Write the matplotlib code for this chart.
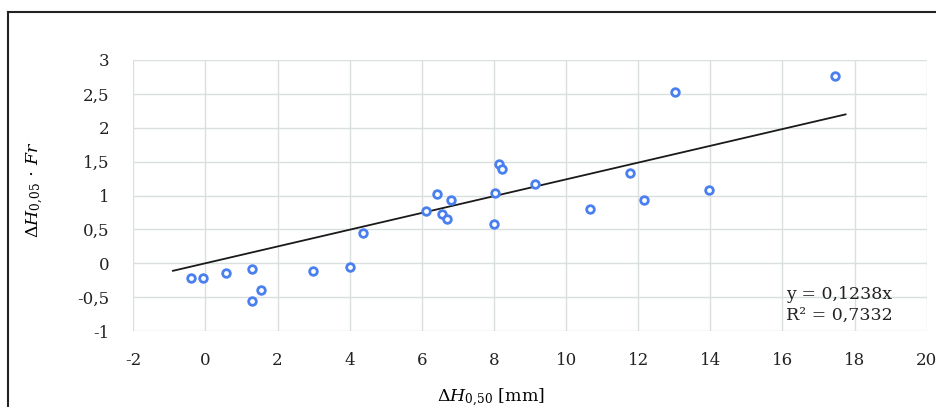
import matplotlib
matplotlib.use("Agg")
import matplotlib.pyplot as plt
from matplotlib.lines import Line2D
from matplotlib.ticker import FuncFormatter, MultipleLocator

# Data
dh50 = [-0.39, -0.08, 0.58, 1.28, 1.55, 1.28, 2.97, 4.02, 4.38, 6.13,
        6.41, 6.55, 6.71, 6.82, 7.99, 8.02, 8.13, 8.21, 9.13, 10.65,
        11.76, 12.15, 13.01, 13.95, 17.45]
dh05_fr = [-0.22, -0.22, -0.15, -0.08, -0.39, -0.55, -0.11, -0.06, 0.45, 0.77,
           1.02, 0.73, 0.66, 0.93, 0.58, 1.04, 1.47, 1.39, 1.17, 0.80,
           1.33, 0.93, 2.53, 1.08, 2.77]
slope = 0.1238
r2 = 0.7332
trend_x = [-0.9, 17.75]

plt.rcParams['font.family'] = ['DejaVu Serif']
plt.rcParams['mathtext.fontset'] = 'dejavuserif'

W, H = 936, 407
fig = plt.figure(figsize=(W / 100, H / 100), dpi=100)
ax = fig.add_axes([133.3 / W, 1 - 331 / H, (926.7 - 133.3) / W, (331 - 60) / H])

grid_c = '#d9dfdf'
ax.set_xlim(-2, 20)
ax.set_ylim(-1, 3)
ax.xaxis.set_major_locator(MultipleLocator(2))
ax.yaxis.set_major_locator(MultipleLocator(0.5))
ax.grid(True, color=grid_c, lw=1.0)
ax.set_axisbelow(True)
for s in ax.spines.values():
    s.set_visible(False)
ax.tick_params(length=0, labelsize=12, colors='#222222', pad=17)
ax.tick_params(axis='x', pad=15)

fmt = FuncFormatter(lambda v, p: ('%g' % v).replace('.', ','))
ax.xaxis.set_major_formatter(fmt)
ax.yaxis.set_major_formatter(fmt)

# trendline through origin
ax.plot(trend_x, [slope * x for x in trend_x], color='#1a1a1a', lw=1.3, zorder=2)

ax.plot(dh50, dh05_fr, 'o', ms=5.5, mfc='white', mec='#4a7ff0', mew=2.0,
        ls='none', zorder=3)

ax.set_xlabel(r'$\Delta \mathit{H}_{\mathit{0{,}50}}$ [mm]', fontsize=12.5)
ax.xaxis.set_label_coords((491 - 133.3) / (926.7 - 133.3), -0.205)
ax.set_ylabel(r'$\Delta \mathit{H}_{0{,}05}\,\cdot\,\mathit{Fr}$', fontsize=12.5)
ax.yaxis.set_label_coords((46 - 133.3) / (926.7 - 133.3), 0.52)

fig.text(786 / W, 1 - 299 / H, 'y = 0,1238x', fontsize=12.5, va='baseline', color='#222222')
fig.text(786 / W, 1 - 320 / H, 'R² = 0,7332', fontsize=12.5, va='baseline', color='#222222')

# outer chart frame (cut off at right and bottom)
fig.add_artist(Line2D([8 / W, 8 / W], [0, 1 - 12 / H], transform=fig.transFigure,
                      color='#222222', lw=1.5))
fig.add_artist(Line2D([8 / W, 1], [1 - 12 / H, 1 - 12 / H], transform=fig.transFigure,
                      color='#222222', lw=1.5))

fig.savefig('out.png', dpi=100)
